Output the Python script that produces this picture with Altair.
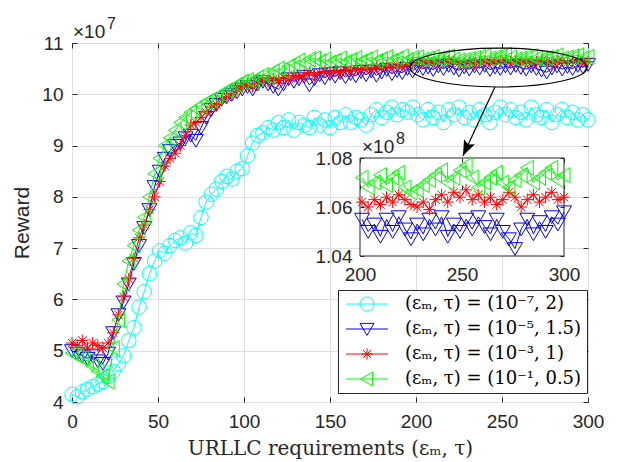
import altair as alt
import pandas as pd

# ---------------- data (reward in units of 1e7) ----------------
episodes = list(range(0, 301, 3))

reward_cyan = [4.15, 4.10, 4.20, 4.25, 4.30, 4.35, 4.40, 4.50, 4.60, 4.75,
               4.90, 5.20, 5.45, 5.85, 6.15, 6.50, 6.75, 6.95, 6.90, 7.05,
               7.15, 7.20, 7.10, 7.30, 7.25, 7.60, 7.90, 8.05, 8.15, 8.30,
               8.40, 8.35, 8.50, 8.55, 8.80, 9.05, 9.20, 9.25, 9.35, 9.30,
               9.45, 9.35, 9.50, 9.30, 9.45, 9.40, 9.35, 9.55, 9.40, 9.50,
               9.35, 9.55, 9.45, 9.60, 9.45, 9.55, 9.50, 9.40, 9.60, 9.70,
               9.55, 9.65, 9.75, 9.60, 9.70, 9.65, 9.75, 9.60, 9.50, 9.70,
               9.55, 9.65, 9.45, 9.70, 9.60, 9.75, 9.55, 9.65, 9.50, 9.70,
               9.60, 9.45, 9.65, 9.75, 9.60, 9.70, 9.55, 9.65, 9.50, 9.75,
               9.60, 9.55, 9.70, 9.45, 9.60, 9.70, 9.55, 9.65, 9.50, 9.60,
               9.50]

reward_blue = [5.00, 4.95, 4.90, 4.85, 4.90, 4.80, 4.75, 4.95, 5.35, 5.70,
               5.95, 6.30, 6.70, 7.05, 7.40, 7.75, 8.20, 8.50, 8.75, 8.90,
               9.00, 9.05, 9.15, 9.20, 9.10, 9.35, 9.55, 9.70, 9.80, 9.90,
               9.95, 10.00, 10.05, 10.10, 10.15, 10.10, 10.20, 10.25, 10.20, 10.15,
               10.10, 10.20, 10.30, 10.25, 10.30, 10.35, 10.18, 10.30, 10.38, 10.32,
               10.40, 10.35, 10.42, 10.34, 10.40, 10.36, 10.44, 10.38, 10.45, 10.37,
               10.43, 10.48, 10.40, 10.46, 10.42, 10.50, 10.45, 10.55, 10.50, 10.53,
               10.48, 10.55, 10.50, 10.56, 10.51, 10.47, 10.53, 10.49, 10.55, 10.51,
               10.56, 10.48, 10.53, 10.50, 10.55, 10.51, 10.56, 10.52, 10.49, 10.55,
               10.50, 10.47, 10.43, 10.51, 10.55, 10.49, 10.54, 10.50, 10.56, 10.53,
               10.58]

reward_red = [5.15, 5.10, 5.20, 5.05, 5.15, 5.10, 5.05, 5.15, 5.35, 5.70,
              6.05, 6.40, 6.80, 7.20, 7.45, 7.75, 8.00, 8.30, 8.60, 8.75,
              8.85, 9.00, 9.20, 9.40, 9.45, 9.55, 9.65, 9.75, 9.80, 9.90,
              9.95, 10.00, 10.10, 10.15, 10.20, 10.15, 10.25, 10.28, 10.25, 10.30,
              10.27, 10.33, 10.30, 10.36, 10.33, 10.38, 10.42, 10.37, 10.42, 10.45,
              10.41, 10.46, 10.43, 10.48, 10.45, 10.50, 10.47, 10.52, 10.48, 10.53,
              10.50, 10.55, 10.52, 10.57, 10.54, 10.58, 10.60, 10.62, 10.60, 10.63,
              10.61, 10.64, 10.62, 10.65, 10.63, 10.61, 10.60, 10.62, 10.59, 10.63,
              10.65, 10.62, 10.66, 10.64, 10.67, 10.63, 10.65, 10.62, 10.64, 10.61,
              10.63, 10.66, 10.64, 10.60, 10.63, 10.65, 10.62, 10.64, 10.66, 10.63,
              10.64]

reward_green = [4.95, 4.90, 4.85, 4.80, 4.70, 4.60, 4.50, 4.40, 5.05, 5.60,
                6.30, 6.75, 7.05, 7.35, 7.60, 8.00, 8.45, 8.75, 9.00, 9.15,
                9.30, 9.45, 9.55, 9.65, 9.72, 9.78, 9.85, 9.90, 9.95, 10.00,
                10.08, 10.12, 10.18, 10.25, 10.28, 10.25, 10.33, 10.38, 10.35, 10.45,
                10.50, 10.45, 10.55, 10.60, 10.66, 10.62, 10.68, 10.70, 10.64, 10.68,
                10.62, 10.66, 10.70, 10.63, 10.67, 10.71, 10.64, 10.68, 10.72, 10.65,
                10.69, 10.73, 10.66, 10.70, 10.74, 10.67, 10.71, 10.72, 10.68, 10.70,
                10.73, 10.69, 10.72, 10.74, 10.68, 10.66, 10.67, 10.69, 10.71, 10.73,
                10.75, 10.70, 10.72, 10.75, 10.77, 10.72, 10.68, 10.70, 10.72, 10.74,
                10.70, 10.68, 10.71, 10.73, 10.76, 10.70, 10.72, 10.74, 10.76, 10.71,
                10.73]

series_labels = ["(εₘ, τ) = (10⁻⁷, 2)", "(εₘ, τ) = (10⁻⁵, 1.5)",
                 "(εₘ, τ) = (10⁻³, 1)", "(εₘ, τ) = (10⁻¹, 0.5)"]
series_colors = ["#00FFFF", "#0000FF", "#FF0000", "#00FF00"]
in_inset = [False, True, True, True]   # cyan lies below the zoomed range

x_ticks = [0, 50, 100, 150, 200, 250, 300]
y_ticks = [4, 5, 6, 7, 8, 9, 10, 11]
inset_x_ticks = [200, 250, 300]
inset_y_ticks = [10.4, 10.6, 10.8]

# ---------------- styling ----------------
SANS = "Liberation Sans"
SERIF = "DejaVu Serif"
INK = "#262626"
GRID = "#dfdfdf"
W, H = 516, 359
TICK_FS = 19

CIRCLE = "circle"
TRI_DOWN = "M-1,-0.8L1,-0.8L0,0.9Z"
ASTER = "M-1,0L1,0M0,-1L0,1M-0.7,-0.7L0.7,0.7M-0.7,0.7L0.7,-0.7"
TRI_LEFT = "M0.8,-1L0.8,1L-0.9,0Z"
marker_shapes = [CIRCLE, TRI_DOWN, ASTER, TRI_LEFT]
marker_sizes = [210, 225, 144, 225]
LINE = "M-3,0L3,0"
CIRC_PATH = "M-1,0A1,1,0,1,1,1,0A1,1,0,1,1,-1,0"
legend_shapes = [LINE + CIRC_PATH, LINE + TRI_DOWN,
                 LINE + "M-0.8,0L0.8,0M0,-0.8L0,0.8M-0.56,-0.56L0.56,0.56M-0.56,0.56L0.56,-0.56",
                 LINE + TRI_LEFT]

X_MAIN = alt.Scale(domain=[0, 300], nice=False, zero=False)
Y_MAIN = alt.Scale(domain=[4, 11], nice=False, zero=False)
X_INSET = alt.Scale(domain=[200, 300], range=[288, 492], nice=False, zero=False)
Y_INSET = alt.Scale(domain=[10.4, 10.8], range=[213, 115], nice=False, zero=False)


def frame(vals, label):
    return pd.DataFrame({"episode": episodes[:len(vals)],
                         "reward": vals[:len(episodes)],
                         "series": label})


frames = [frame(v, l) for v, l in zip([reward_cyan, reward_blue, reward_red, reward_green], series_labels)]


def tick_axis(orient, offset, values, size=5, z=0):
    return alt.Axis(orient=orient, offset=offset, values=values, labels=False, grid=False,
                    domain=False, ticks=True, tickSize=size, tickColor=INK, tickWidth=1,
                    title=None, zindex=z)


ax_x_main = alt.Axis(orient="bottom", values=x_ticks, grid=True, gridColor=GRID, gridWidth=1,
                     ticks=False, domain=False, labelFont=SANS, labelFontSize=TICK_FS,
                     labelColor=INK, labelFlush=False, labelPadding=10,
                     title="URLLC requirements (εₘ, τ)", titleFont=SERIF,
                     titleFontSize=20, titleFontWeight="normal", titleColor=INK, titlePadding=7)
ax_y_main = alt.Axis(orient="left", values=y_ticks, grid=True, gridColor=GRID, gridWidth=1,
                     ticks=False, domain=False, labelFont=SANS, labelFontSize=TICK_FS,
                     labelColor=INK, labelFlush=False, labelPadding=9, title="Reward",
                     titleFont=SANS, titleFontSize=21, titleFontWeight="normal",
                     titleColor=INK, titlePadding=9)

main_axes = [
    (ax_x_main, ax_y_main),
    (tick_axis("top", -H, x_ticks), tick_axis("right", -W, y_ticks)),
    (tick_axis("bottom", -H, x_ticks), tick_axis("left", -W, y_ticks)),
]

main_layers = []
k = 0
for df, color, shape, size in zip(frames, series_colors, marker_shapes, marker_sizes):
    for kind in ("line", "point"):
        if k < len(main_axes):
            xa, ya = main_axes[k]
        else:
            xa, ya = None, None
        base = alt.Chart(df)
        if kind == "line":
            m = base.mark_line(color=color, strokeWidth=1)
        else:
            m = base.mark_point(shape=shape, size=size, filled=False, color=color,
                                strokeWidth=1, opacity=1)
        main_layers.append(m.encode(
            x=alt.X("episode:Q", scale=X_MAIN, axis=xa),
            y=alt.Y("reward:Q", scale=Y_MAIN, axis=ya),
        ))
        k += 1

# ellipse + arrow annotation (data coordinates)
ell_df = pd.DataFrame({"episode": [248.0], "reward": [10.522]})
ellipse = alt.Chart(ell_df).mark_point(
    shape="M-1,0A1,0.22,0,1,1,1,0A1,0.22,0,1,1,-1,0", size=177 ** 2,
    filled=False, color="black", strokeWidth=1.2, opacity=1
).encode(x=alt.X("episode:Q", scale=X_MAIN, axis=None),
         y=alt.Y("reward:Q", scale=Y_MAIN, axis=None))

arr_df = pd.DataFrame({"x1": [245.9], "y1": [10.14], "x2": [227.3], "y2": [8.80]})
arrow_line = alt.Chart(arr_df).mark_rule(color="black", strokeWidth=1.2).encode(
    x=alt.X("x1:Q", scale=X_MAIN, axis=None), y=alt.Y("y1:Q", scale=Y_MAIN, axis=None),
    x2="x2:Q", y2="y2:Q")
arrow_head = alt.Chart(arr_df).mark_point(
    shape="M0,0L-1,2.6L0,2.1L1,2.6Z", size=144, filled=True, color="black",
    opacity=1, angle=204.9
).encode(x=alt.X("x2:Q", scale=X_MAIN, axis=None), y=alt.Y("y2:Q", scale=Y_MAIN, axis=None))

one = pd.DataFrame({"a": [0]})


def label(text, size, xpx, ypx):
    return alt.Chart(one).mark_text(text=text, font=SANS, fontSize=size, color=INK,
                                    align="left", baseline="alphabetic").encode(
        x=alt.value(xpx), y=alt.value(ypx))


exp7 = label("×10", 19, 1, -5)
exp7s = label("7", 16, 35, -14)
exp8 = label("×10", 19, 290, 110)
exp8s = label("8", 16, 324, 101)

legend_df = pd.DataFrame({"series": series_labels})
leg = alt.Legend(title=None, orient="none", legendX=266, legendY=247, fillColor="white",
                 strokeColor=INK, padding=5, rowPadding=7, labelFont=SERIF, labelFontSize=18,
                 labelColor="black", labelLimit=400, symbolSize=196, symbolStrokeWidth=1,
                 symbolOffset=15, labelOffset=29)
legend_layer = alt.Chart(legend_df).transform_filter("false").mark_point(
    filled=False, opacity=1, size=196, strokeWidth=1
).encode(
    color=alt.Color("series:N", scale=alt.Scale(domain=series_labels, range=series_colors),
                    legend=leg, sort=series_labels),
    shape=alt.Shape("series:N", scale=alt.Scale(domain=series_labels, range=legend_shapes),
                    legend=leg, sort=series_labels),
)

main = alt.layer(*main_layers, ellipse, arrow_line, arrow_head, exp7, exp7s, exp8, exp8s,
                 legend_layer).resolve_axis(x="independent", y="independent")

# ---------------- inset ----------------
bg_df = pd.DataFrame({"x0": [200], "x1": [300], "y0": [10.4], "y1": [10.8]})
inset_x_axis = alt.Axis(orient="bottom", offset=213 - H, values=inset_x_ticks, grid=False,
                        ticks=False, domain=False, labelFont=SANS, labelFontSize=TICK_FS,
                        labelColor=INK, labelFlush=False, labelPadding=9, title=None, zindex=1)
inset_y_axis = alt.Axis(orient="left", offset=-288, values=inset_y_ticks, grid=False,
                        ticks=False, domain=False, labelFont=SANS, labelFontSize=TICK_FS,
                        labelColor=INK, labelFlush=False, labelPadding=8, title=None, zindex=1,
                        labelExpr="format(datum.value / 10, '.2f')")
inset_bg = alt.Chart(bg_df).mark_rect(fill="white", stroke=INK, strokeWidth=1).encode(
    x=alt.X("x0:Q", scale=X_INSET, axis=inset_x_axis), x2="x1:Q",
    y=alt.Y("y0:Q", scale=Y_INSET, axis=inset_y_axis), y2="y1:Q")

inset_axes = [
    (tick_axis("top", -(H - 213), inset_x_ticks, 4, 1), tick_axis("right", 288 - W, inset_y_ticks, 4, 1)),
    (tick_axis("bottom", 115 - H, inset_x_ticks, 4, 1), tick_axis("left", -492, inset_y_ticks, 4, 1)),
]
inset_layers = [inset_bg]
k = 0
for df, color, shape, size, show in zip(frames, series_colors, marker_shapes, marker_sizes, in_inset):
    if not show:
        continue
    for kind in ("line", "point"):
        if k < len(inset_axes):
            xa, ya = inset_axes[k]
        else:
            xa, ya = None, None
        base = alt.Chart(df).transform_filter(alt.datum.episode >= 200)
        if kind == "line":
            m = base.mark_line(color=color, strokeWidth=1)
        else:
            m = base.mark_point(shape=shape, size=size, filled=False, color=color,
                                strokeWidth=1, opacity=1)
        inset_layers.append(m.encode(
            x=alt.X("episode:Q", scale=X_INSET, axis=xa),
            y=alt.Y("reward:Q", scale=Y_INSET, axis=ya),
        ))
        k += 1

inset = alt.layer(*inset_layers).resolve_axis(x="independent", y="independent")

chart = alt.layer(main, inset).resolve_scale(
    x="independent", y="independent"
).properties(
    width=W, height=H,
    padding={"left": 72, "top": 43, "right": 29, "bottom": 60},
    autosize=alt.AutoSizeParams(type="none"),
    background="white",
).configure_view(stroke=INK, strokeWidth=1)

chart.save("out.html", embed_options={"renderer": "svg", "actions": False})
